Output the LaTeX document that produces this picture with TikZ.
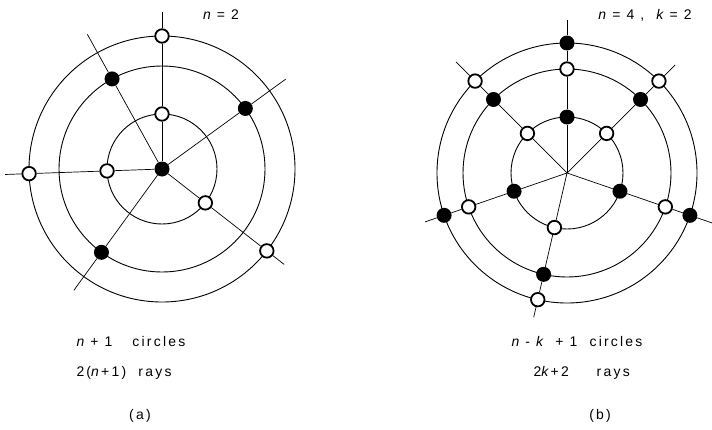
\documentclass[tikz,border=0pt]{standalone}
\usepackage{fontspec}
\setmainfont{Liberation Sans}
\usetikzlibrary{positioning}

\begin{document}
\begin{tikzpicture}[
  x=1bp, y=1bp,
  ring/.style={line width=0.9bp},
  ray/.style={line width=0.7bp},
  opendot/.style={circle,draw,fill=white,line width=1.8bp,minimum size=13.5bp,inner sep=0pt},
  fulldot/.style={circle,fill=black,minimum size=15bp,inner sep=0pt},
  caption/.style={font=\fontsize{14}{16}\selectfont\addfontfeatures{LetterSpace=16}}
]
\useasboundingbox (0,0) rectangle (712,429);

\coordinate (ca) at (162,260);
\draw[ring] (ca) circle (55) (ca) circle (103) (ca) circle (133);
\node[fulldot] (a0) at (ca) {};
\foreach \k/\ang/\len in {1/90/157,2/182/157,3/-38/155} {
  \node[opendot] (a-i\k) at ([shift={(\ang:55)}]ca) {};
  \node[opendot] (a-o\k) at ([shift={(\ang:133)}]ca) {};
  \coordinate (ea\k) at ([shift={(\ang:\len)}]ca);
  \draw[ray] (a0) -- (a-i\k) -- (a-o\k) -- (ea\k);
}
\foreach \k/\ang/\len in {4/119/154,5/36/153,6/234/150} {
  \node[fulldot] (a-m\k) at ([shift={(\ang:103)}]ca) {};
  \coordinate (ea\k) at ([shift={(\ang:\len)}]ca);
  \draw[ray] (a0) -- (a-m\k) -- (ea\k);
}

\coordinate (cb) at (567,256);
\draw[ring] (cb) circle (56) (cb) circle (104) (cb) circle (130);
\foreach \k/\ang/\ti/\tm/\len in {1/90/fulldot/opendot/153,2/135/opendot/fulldot/157,
    3/45/opendot/fulldot/153,4/199/fulldot/opendot/150,5/-19/fulldot/opendot/154,
    6/-103/opendot/fulldot/148} {
  \node[\ti] (b-i\k) at ([shift={(\ang:56)}]cb) {};
  \node[\tm] (b-m\k) at ([shift={(\ang:104)}]cb) {};
  \node[\ti] (b-o\k) at ([shift={(\ang:130)}]cb) {};
  \coordinate (eb\k) at ([shift={(\ang:\len)}]cb);
  \draw[ray] (cb) -- (b-i\k) -- (b-m\k) -- (b-o\k) -- (eb\k);
}

\node[caption] (na) at (221,414) {{\itshape n} = 2};
\node[caption] (nb) at (645,414) {{\itshape n}\ =\ 4\ ,\ \ {\itshape k}\ =\ 2};

\node[caption, anchor=west] (capa1) at (73,87) {{\itshape n}\ +\ 1\quad\ circles};
\node[caption, anchor=west] (capa2) at (73,56) {2({\itshape n}\,+1)\ \ rays};
\node[caption] (taga) at (140,13) {(a)};

\node[caption, anchor=west] (capb1) at (508,87) {{\itshape n}\ -\ {\itshape k}\ \ +\ 1\ \ circles};
\node[caption, anchor=west] (capb2) at (530,56) {2{\itshape k}\,+\,2\qquad rays};
\node[caption] (tagb) at (600,13) {(b)};
\end{tikzpicture}
\end{document}
